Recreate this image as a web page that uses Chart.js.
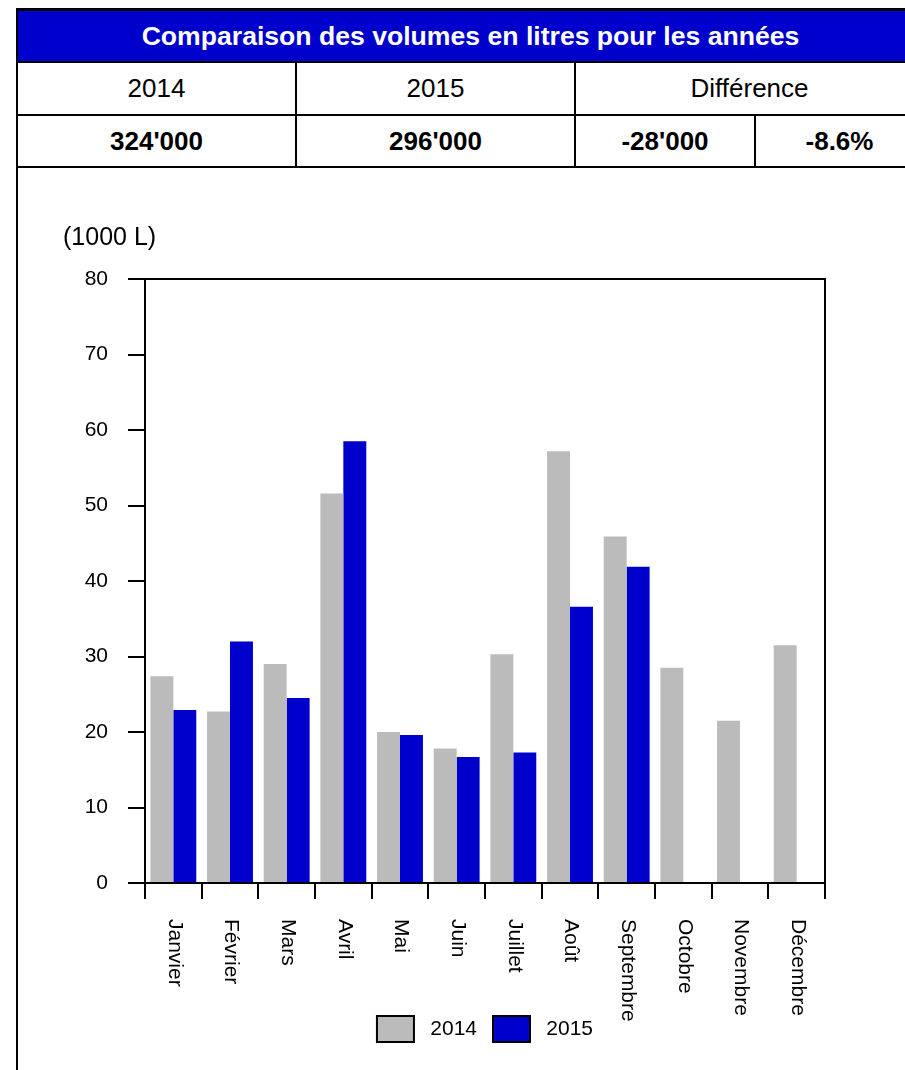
<!DOCTYPE html>
<html>
<head>
<meta charset="utf-8">
<script src="https://cdn.jsdelivr.net/npm/chart.js@4/dist/chart.umd.min.js"></script>
<style>
    body { margin: 0; overflow: hidden; background: #fff; font-family: "Liberation Sans", Arial, sans-serif; }
    .cell {
        position: absolute; box-sizing: border-box; border: 2px solid #000;
        display: flex; align-items: center; justify-content: center;
        font-size: 26px; color: #000;
    }
    .head { background: #0000CC; color: #fff; font-weight: bold; font-size: 26.6px; border-top-width: 3px; }
    .bold { font-weight: bold; }
    #chartBox { position: absolute; left: 0; top: 169px; width: 905px; height: 901px; }
</style>
</head>
<body>
<div class="cell head" style="left:16px;top:8px;width:909px;height:55px;">Comparaison des volumes en litres pour les années</div>
<div class="cell" style="left:16px;top:61px;width:281px;height:55px;">2014</div>
<div class="cell" style="left:295px;top:61px;width:281px;height:55px;">2015</div>
<div class="cell" style="left:574px;top:61px;width:351px;height:55px;">Différence</div>
<div class="cell bold" style="left:16px;top:114px;width:281px;height:54px;">324'000</div>
<div class="cell bold" style="left:295px;top:114px;width:281px;height:54px;">296'000</div>
<div class="cell bold" style="left:574px;top:114px;width:182px;height:54px;">-28'000</div>
<div class="cell bold" style="left:754px;top:114px;width:171px;height:54px;">-8.6%</div>
<div style="position:absolute;left:16px;top:166px;width:2px;height:910px;background:#000;"></div>

<div id="chartBox"><canvas id="myChart" width="905" height="901"></canvas></div>

<script>
const months = ['Janvier', 'Février', 'Mars', 'Avril', 'Mai', 'Juin', 'Juillet', 'Août', 'Septembre', 'Octobre', 'Novembre', 'Décembre'];
const vol2014 = [27.4, 22.7, 29.0, 51.6, 20.0, 17.8, 30.3, 57.2, 45.9, 28.5, 21.5, 31.5];
const vol2015 = [22.9, 32.0, 24.5, 58.5, 19.6, 16.7, 17.3, 36.6, 41.9, null, null, null];
const yTicks = [0, 10, 20, 30, 40, 50, 60, 70, 80];
const unitLabel = '(1000 L)';

const fontName = '"Liberation Sans", Arial, sans-serif';

// frame around the plot, unit text and month labels turned clockwise
const extras = {
    id: 'extras',
    afterDatasetsDraw(chart) {
        const ctx = chart.ctx;
        const a = chart.chartArea;
        ctx.save();
        ctx.strokeStyle = '#000';
        ctx.lineWidth = 2;
        ctx.strokeRect(a.left, a.top, a.right - a.left, a.bottom - a.top);

        ctx.fillStyle = '#000';
        ctx.font = '25px ' + fontName;
        ctx.textAlign = 'left';
        ctx.textBaseline = 'middle';
        ctx.fillText(unitLabel, a.left - 82, a.top - 41);

        const xs = chart.scales.x;
        ctx.font = '21px ' + fontName;
        months.forEach((m, i) => {
            ctx.save();
            ctx.translate(xs.getPixelForTick(i) + 1, a.bottom + 36);
            ctx.rotate(Math.PI / 2);
            ctx.fillText(m, 0, 0);
            ctx.restore();
        });
        ctx.restore();
    }
};

const ctx = document.getElementById('myChart');

new Chart(ctx, {
    type: 'bar',
    data: {
        labels: months,
        datasets: [{
            label: '2014',
            data: vol2014,
            backgroundColor: '#BBBBBB',
            borderWidth: 0
        }, {
            label: '2015',
            data: vol2015,
            backgroundColor: '#0000CC',
            borderWidth: 0
        }]
    },
    options: {
        responsive: false,
        animation: false,
        layout: {
            padding: { left: 0, right: 80, top: 110, bottom: 18 }
        },
        datasets: {
            bar: { categoryPercentage: 0.81, barPercentage: 1.0 }
        },
        scales: {
            x: {
                afterFit: (s) => { s.height = 117; },
                ticks: { display: false },
                grid: {
                    offset: true,
                    drawOnChartArea: false,
                    drawTicks: true,
                    tickLength: 16,
                    color: '#000',
                    lineWidth: 2
                },
                border: { display: true, color: '#000', width: 2 }
            },
            y: {
                min: 0,
                max: 80,
                afterFit: (s) => { s.width = 145; },
                afterBuildTicks: (s) => { s.ticks = yTicks.map(v => ({ value: v })); },
                ticks: {
                    color: '#000',
                    font: { family: fontName, size: 21 },
                    padding: 20
                },
                grid: {
                    drawOnChartArea: false,
                    drawTicks: true,
                    tickLength: 17,
                    color: '#000',
                    lineWidth: 2
                },
                border: { display: true, color: '#000', width: 2 }
            }
        },
        plugins: {
            title: { display: false },
            tooltip: { enabled: false },
            legend: {
                position: 'bottom',
                fullSize: false,
                labels: {
                    color: '#000',
                    font: { family: fontName, size: 21 },
                    boxWidth: 37,
                    boxHeight: 26,
                    padding: 16,
                    generateLabels: (chart) => Chart.defaults.plugins.legend.labels.generateLabels(chart).map(item => {
                        item.strokeStyle = '#000';
                        item.lineWidth = 2;
                        item.text = ' ' + item.text; // wider gap between box and text
                        return item;
                    })
                }
            }
        }
    },
    plugins: [extras]
});
</script>
</body>
</html>
